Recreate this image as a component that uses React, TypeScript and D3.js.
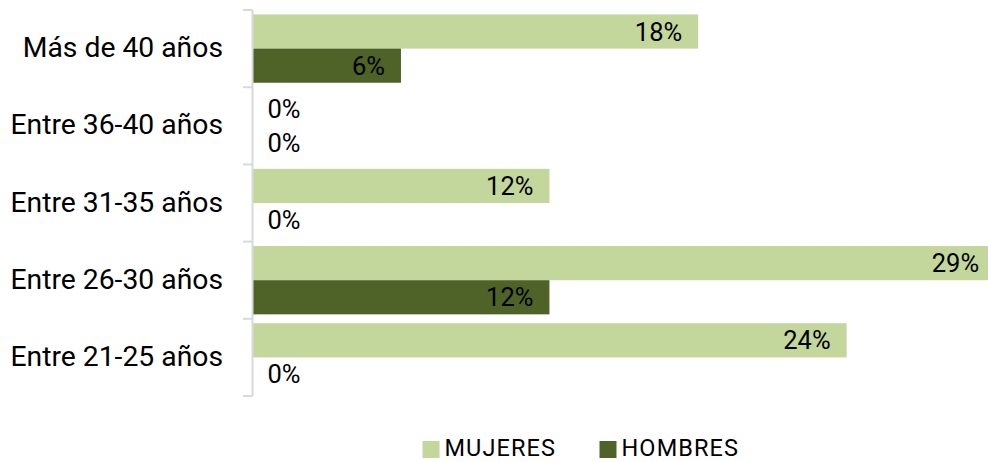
import React from "react";
import * as d3 from "d3";

const categories = ["Más de 40 años", "Entre 36-40 años", "Entre 31-35 años", "Entre 26-30 años", "Entre 21-25 años"];
const seriesNames = ["MUJERES", "HOMBRES"];
const mujeres = [17.65, 0, 11.76, 29.41, 23.53];
const hombres = [5.88, 0, 0, 11.76, 0];
const colors = ["#c3d69b", "#4f6228"];

const W = 988;
const H = 462;

export default function App() {
  const y = d3.scaleBand<string>().domain(categories).range([10, 396]).paddingInner(0).paddingOuter(0);
  const inner = d3.scaleBand<string>().domain(seriesNames).range([0, y.bandwidth()]).paddingOuter(0.13).paddingInner(0);
  const x = d3.scaleLinear().domain([0, 30]).range([252.5, 1010]);
  const series = [mujeres, hombres];
  const font = "Roboto, 'Noto Sans', sans-serif";
  const boundaries = [...categories.map((c) => y(c) as number), 396];

  return (
    <svg width={W} height={H} style={{ position: "absolute", left: 0, top: 0, background: "#fff" }}>
      <rect x={0} y={0} width={W} height={H} fill="#fff" />
      {categories.map((c, ci) =>
        series.map((vals, si) => {
          const by = (y(c) as number) + (inner(seriesNames[si]) as number);
          const bh = inner.bandwidth();
          const v = vals[ci];
          const x0 = x(0);
          const x1 = x(v);
          const label = `${Math.round(v)}%`;
          const cy = by + bh / 2;
          const inside = x1 - x0 > 60;
          return (
            <g key={`${ci}-${si}`}>
              {v > 0 && <rect x={x0} y={by} width={x1 - x0} height={bh} fill={colors[si]} />}
              <text
                x={inside ? Math.min(x1 - 16, 984) : x0 + 15}
                y={cy + 9}
                textAnchor={inside ? "end" : "start"}
                fontFamily={font}
                fontSize={25.5}
                fill="#000"
              >
                {label}
              </text>
            </g>
          );
        })
      )}
      <line x1={x(0)} x2={x(0)} y1={10} y2={396} stroke="#d9d9d9" strokeWidth={2} />
      {boundaries.map((b, i) => (
        <line key={i} x1={243} x2={x(0)} y1={b} y2={b} stroke="#d9d9d9" strokeWidth={2} />
      ))}
      {categories.map((c) => (
        <text
          key={c}
          x={223}
          y={(y(c) as number) + y.bandwidth() / 2 + 8.5}
          textAnchor="end"
          fontFamily={font}
          fontSize={28.3}
          fill="#000"
        >
          {c}
        </text>
      ))}
      {seriesNames.map((s, i) => {
        const lx = i === 0 ? 422.5 : 599.5;
        return (
          <g key={s}>
            <rect x={lx} y={441} width={17} height={17} fill={colors[i]} />
            <text x={lx + 22} y={456} fontFamily={font} fontSize={23.5} letterSpacing={1.1} fill="#000">
              {s}
            </text>
          </g>
        );
      })}
    </svg>
  );
}
